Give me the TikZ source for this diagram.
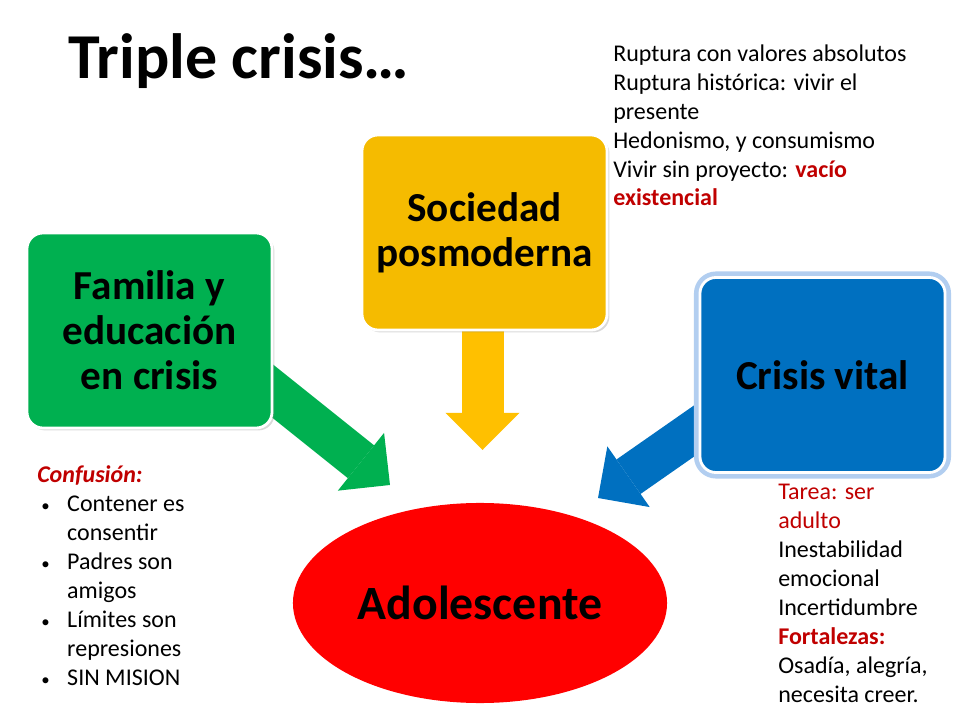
\documentclass[tikz,border=0pt]{standalone}
\usepackage{fontspec}
\setmainfont{Carlito}
\usetikzlibrary{arrows.meta,backgrounds,shadows,shapes.geometric}

\definecolor{famgreen}{RGB}{0,176,80}
\definecolor{socyellow}{RGB}{245,187,0}
\definecolor{arryellow}{RGB}{255,192,0}
\definecolor{vitblue}{RGB}{0,112,192}
\definecolor{glowblue}{RGB}{178,206,240}
\definecolor{darkred}{RGB}{192,0,0}

\begin{document}
\begin{tikzpicture}[x=0.025cm, y=-0.025cm,
  crisisbox/.style={rounded corners=0.4cm, minimum width=6.125cm, minimum height=4.875cm, inner sep=0pt, align=center, font=\bfseries\fontsize{29.3pt}{32pt}\selectfont},
  boxshadow/.style={drop shadow={shadow xshift=0.06cm, shadow yshift=-0.06cm, opacity=0.3}},
  fatarrow/.style={line width=1.05cm, -{Triangle[width=1.85cm, length=0.93cm, line width=0pt]}},
  notes/.style={anchor=base west, align=left, inner sep=0pt, font=\fontsize{17.07pt}{20.6pt}\selectfont}]
\useasboundingbox (0,0) rectangle (960,720);

\node[anchor=base west, inner sep=0pt, font=\bfseries\fontsize{45.5pt}{50pt}\selectfont] (title) at (68,79) {Triple crisis…};

\node[crisisbox, boxshadow, fill=socyellow, draw=white, line width=0.07cm] (soc) at (484.5,232.5) {Sociedad\\posmoderna};
\node[crisisbox, boxshadow, fill=famgreen, draw=white, line width=0.07cm] (fam) at (149.5,330.5) {Familia y\\educación\\en crisis};
\node[crisisbox, fill=vitblue, draw=white, line width=0.07cm, preaction={draw=glowblue, line width=0.3cm}] (vit) at (822.5,375) {Crisis vital};

\node[ellipse, fill=red, minimum width=9.35cm, minimum height=5cm, inner sep=0pt, font=\bfseries\fontsize{34pt}{38pt}\selectfont] (ado) at (480,603) {Adolescente};

\coordinate (socstart) at (482.5,300);
\coordinate (soctip) at (482.5,450);
\coordinate (famstart) at (230,357);
\coordinate (famtip) at (390,485);
\coordinate (vitstart) at (760,385);
\coordinate (vittip) at (598,498);

\begin{scope}[on background layer]
\draw[fatarrow, arryellow] (socstart) -- (soctip);
\draw[fatarrow, famgreen] (famstart) -- (famtip);
\draw[fatarrow, vitblue] (vitstart) -- (vittip);
\end{scope}

% base of a multi-line node is its last line
\node[notes] (socnotes) at (613,206) {Ruptura con valores absolutos\\Ruptura histórica: vivir el\\presente\\Hedonismo, y consumismo\\Vivir sin proyecto: \textcolor{darkred}{\bfseries vacío}\\\textcolor{darkred}{\bfseries existencial}};

\node[notes] (famnotes) at (37,685) {\textcolor{darkred}{\bfseries\itshape Confusión:}\\
\makebox[21.3pt][l]{\,{\fontsize{12pt}{12pt}\selectfont •}}Contener es\\\hspace*{21.3pt}consentir\\
\makebox[21.3pt][l]{\,{\fontsize{12pt}{12pt}\selectfont •}}Padres son\\\hspace*{21.3pt}amigos\\
\makebox[21.3pt][l]{\,{\fontsize{12pt}{12pt}\selectfont •}}Límites son\\\hspace*{21.3pt}represiones\\
\makebox[21.3pt][l]{\,{\fontsize{12pt}{12pt}\selectfont •}}SIN MISION};

\node[notes] (vitnotes) at (778,702) {\textcolor{darkred}{Tarea: ser}\\\textcolor{darkred}{adulto}\\Inestabilidad\\emocional\\Incertidumbre\\\textcolor{darkred}{\bfseries Fortalezas:}\\Osadía, alegría,\\necesita creer.};
\end{tikzpicture}
\end{document}
